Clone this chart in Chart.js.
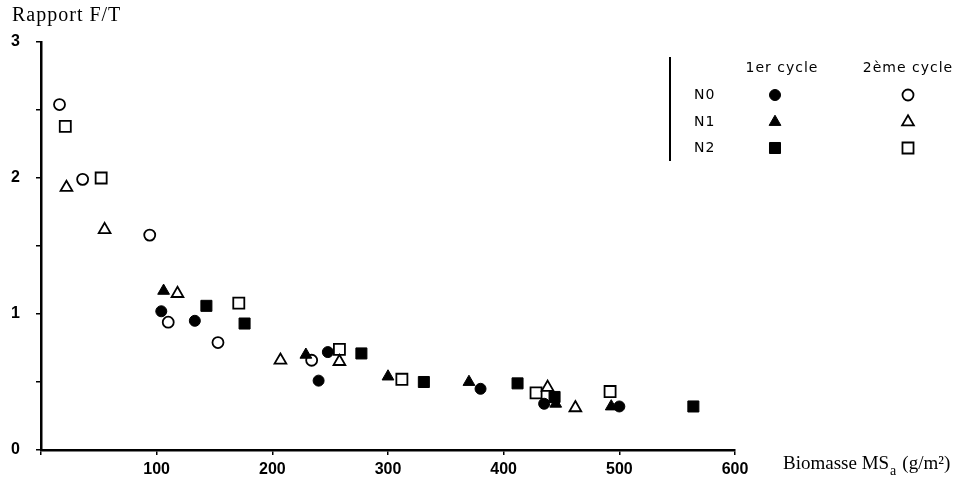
<!DOCTYPE html>
<html>
<head>
<meta charset="utf-8">
<script src="https://cdn.jsdelivr.net/npm/chart.js@4"></script>
<style>
  html, body { margin: 0; padding: 0; background: #fff; }
  canvas { display: block; }
</style>
</head>
<body>
<canvas id="ftChart" width="957" height="479"></canvas>
<script>
// --- données (biomasse g/m², rapport F/T) ---
const n0c1X = [104, 133, 240, 248, 380, 435, 500];
const n0c1Y = [1.02, 0.95, 0.51, 0.72, 0.45, 0.34, 0.32];
const n1c1X = [106, 229, 300, 370, 445, 493];
const n1c1Y = [1.17, 0.70, 0.54, 0.50, 0.34, 0.32];
const n2c1X = [143, 176, 277, 331, 412, 444, 564];
const n2c1Y = [1.06, 0.93, 0.71, 0.50, 0.49, 0.39, 0.32];

const n0c2X = [16, 36, 94, 110, 153, 234];
const n0c2Y = [2.54, 1.99, 1.58, 0.94, 0.79, 0.66];
const n1c2X = [22, 55, 118, 207, 258, 438, 462];
const n1c2Y = [1.93, 1.62, 1.15, 0.66, 0.65, 0.46, 0.31];
const n2c2X = [21, 52, 171, 258, 312, 428, 492];
const n2c2Y = [2.38, 2.0, 1.08, 0.74, 0.52, 0.42, 0.43];

const yTickLabels = ['0', '1', '2', '3'];
const xTickLabels = ['100', '200', '300', '400', '500', '600'];
const legendRows = ['N0', 'N1', 'N2'];
const legendCols = ['1er cycle', '2ème cycle'];
const rowStyles = ['circle', 'triangle', 'rect'];

function toPoints(xs, ys) {
    return xs.map((x, i) => ({ x: x, y: ys[i] }));
}

const radii = { circle: 5.5, triangle: 6.8, rect: 7.8 };

function serie(label, xs, ys, style, filled) {
    return {
        label: label,
        data: toPoints(xs, ys),
        pointStyle: style,
        pointRadius: radii[style],
        pointHoverRadius: radii[style],
        backgroundColor: filled ? '#000' : '#fff',
        borderColor: '#000',
        borderWidth: filled ? 1 : 1.8,
        showLine: false
    };
}

// ====================================================================
// légende + titres des axes dessinés à la main
// ====================================================================
function drawMarker(ctx, style, x, y, filled) {
    const r = radii[style];
    ctx.save();
    ctx.fillStyle = filled ? '#000' : '#fff';
    ctx.strokeStyle = '#000';
    ctx.lineWidth = filled ? 1 : 1.8;
    ctx.beginPath();
    if (style === 'circle') {
        ctx.arc(x, y, r, 0, Math.PI * 2);
    } else if (style === 'triangle') {
        ctx.moveTo(x, y - r);
        ctx.lineTo(x + r * Math.sin(Math.PI / 3), y + r / 2);
        ctx.lineTo(x - r * Math.sin(Math.PI / 3), y + r / 2);
    } else {
        const s = r * Math.SQRT1_2;
        ctx.rect(x - s, y - s, 2 * s, 2 * s);
    }
    ctx.closePath();
    ctx.fill();
    ctx.stroke();
    ctx.restore();
}

const decorPlugin = {
    id: 'decor',
    afterDraw(chart) {
        const ctx = chart.ctx;
        ctx.save();
        ctx.fillStyle = '#000';
        ctx.textBaseline = 'middle';

        // titre axe y
        ctx.font = '20px "Liberation Serif", serif';
        ctx.textAlign = 'left';
        ctx.letterSpacing = '1px';
        ctx.fillText('Rapport F/T', 12, 16);
        ctx.letterSpacing = '0px';

        // titre axe x avec indice
        let x = 783;
        const y = 464;
        ctx.font = '19px "Liberation Serif", serif';
        ctx.fillText('Biomasse MS', x, y);
        x += ctx.measureText('Biomasse MS').width;
        ctx.font = '14px "Liberation Serif", serif';
        ctx.fillText('a', x + 1, y + 7);
        x += ctx.measureText('a').width + 7;
        ctx.font = '19px "Liberation Serif", serif';
        ctx.fillText('(g/m²)', x, y);

        // légende
        ctx.strokeStyle = '#000';
        ctx.lineWidth = 2;
        ctx.beginPath();
        ctx.moveTo(670, 57);
        ctx.lineTo(670, 161);
        ctx.stroke();

        ctx.font = '14px "DejaVu Sans", sans-serif';
        ctx.letterSpacing = '1px';
        ctx.textAlign = 'center';
        ctx.fillText(legendCols[0], 782, 68);
        ctx.fillText(legendCols[1], 908, 68);

        const rowY = [95, 122, 148];
        legendRows.forEach((lab, i) => {
            ctx.textAlign = 'left';
            ctx.fillStyle = '#000';
            ctx.fillText(lab, 694, rowY[i]);
            drawMarker(ctx, rowStyles[i], 775, rowY[i], true);
            drawMarker(ctx, rowStyles[i], 908, rowY[i], false);
        });
        ctx.letterSpacing = '0px';
        ctx.restore();
    }
};

const tickFont = { family: 'Liberation Sans', size: 16, weight: 'bold' };

const ctx = document.getElementById('ftChart');
new Chart(ctx.getContext('2d'), {
    type: 'scatter',
    data: {
        datasets: [
            serie('N0 1er cycle', n0c1X, n0c1Y, 'circle', true),
            serie('N1 1er cycle', n1c1X, n1c1Y, 'triangle', true),
            serie('N2 1er cycle', n2c1X, n2c1Y, 'rect', true),
            serie('N0 2ème cycle', n0c2X, n0c2Y, 'circle', false),
            serie('N1 2ème cycle', n1c2X, n1c2Y, 'triangle', false),
            serie('N2 2ème cycle', n2c2X, n2c2Y, 'rect', false)
        ]
    },
    options: {
        responsive: false,
        animation: false,
        layout: { padding: { top: 42, right: 222, left: 0, bottom: 0 } },
        plugins: {
            legend: { display: false },
            tooltip: { enabled: false }
        },
        scales: {
            x: {
                type: 'linear',
                min: 0,
                max: 600,
                afterFit(scale) { scale.height = 29; },
                border: { display: true, color: '#000', width: 2.5 },
                grid: { display: true, drawOnChartArea: false, drawTicks: true, tickLength: 5, color: '#000', lineWidth: 1.5 },
                ticks: {
                    stepSize: 100,
                    padding: 5,
                    color: '#000',
                    maxRotation: 0,
                    font: tickFont,
                    callback: (v) => xTickLabels.includes(String(v)) ? String(v) : ''
                }
            },
            y: {
                type: 'linear',
                min: 0,
                max: 3,
                afterFit(scale) { scale.width = 41; },
                border: { display: true, color: '#000', width: 2.5 },
                grid: { display: true, drawOnChartArea: false, drawTicks: true, tickLength: 5, color: '#000', lineWidth: 1.5 },
                ticks: {
                    stepSize: 0.5,
                    padding: 16,
                    color: '#000',
                    font: tickFont,
                    callback: (v) => yTickLabels.includes(String(v)) ? String(v) : ''
                }
            }
        }
    },
    plugins: [decorPlugin]
});
</script>
</body>
</html>
